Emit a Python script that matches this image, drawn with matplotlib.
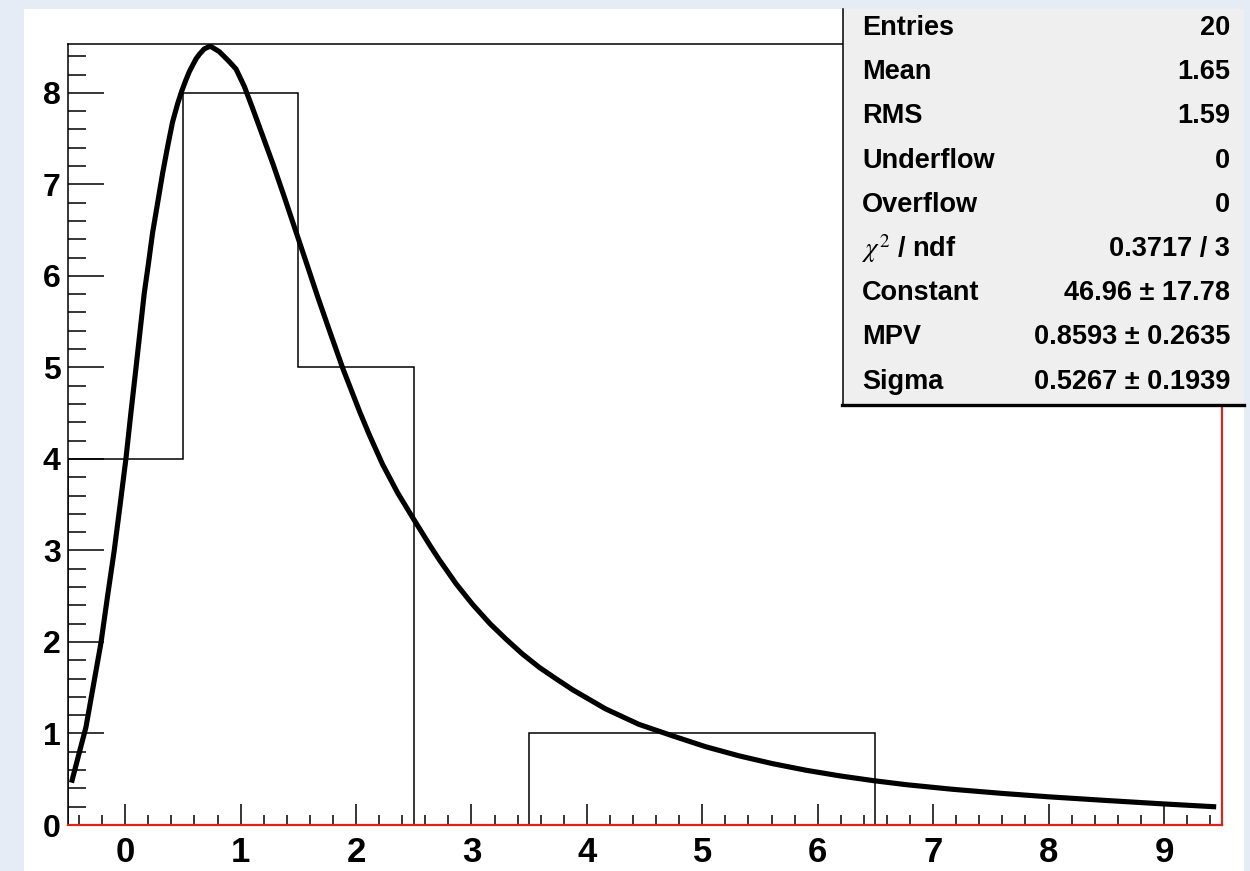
import matplotlib
matplotlib.use("Agg")
import matplotlib.pyplot as plt
from matplotlib.patches import Rectangle
from matplotlib.lines import Line2D
import numpy as np

plt.rcParams['font.family'] = ['Liberation Sans', 'DejaVu Sans']
plt.rcParams['mathtext.fontset'] = 'stix'

# histogram (bin width 1, centred on the integers)
bin_edges = np.arange(-0.5, 10.0, 1.0)
counts = [4, 8, 5, 0, 1, 1, 1, 0, 0, 0]

# landau fit curve
fit_x = [-0.46, -0.34, -0.21, -0.153, -0.095, -0.046, 0.006, 0.049, 0.093, 0.136,
         0.165, 0.202, 0.237, 0.28, 0.324, 0.367, 0.41, 0.454, 0.49, 0.526,
         0.555, 0.613, 0.642, 0.685, 0.737, 0.815, 0.902, 0.96, 1.032, 1.104,
         1.191, 1.278, 1.379, 1.48, 1.581, 1.668, 1.77, 1.885, 2.03, 2.116,
         2.23, 2.36, 2.49, 2.64, 2.72, 2.87, 3.01, 3.16, 3.30, 3.44,
         3.59, 3.73, 3.88, 4.16, 4.45, 4.74, 5.03, 5.32, 5.61, 5.90,
         6.19, 6.48, 6.77, 7.17, 7.6, 8.0, 8.5, 9.0, 9.43]
fit_y = [0.49, 1.07, 1.99, 2.50, 3.0, 3.48, 4.0, 4.50, 4.99, 5.48,
         5.81, 6.14, 6.47, 6.79, 7.12, 7.41, 7.68, 7.88, 8.02, 8.14,
         8.23, 8.37, 8.42, 8.48, 8.51, 8.45, 8.34, 8.26, 8.07, 7.83,
         7.53, 7.23, 6.86, 6.48, 6.10, 5.77, 5.40, 4.99, 4.52, 4.26,
         3.94, 3.63, 3.36, 3.055, 2.90, 2.63, 2.41, 2.20, 2.03, 1.87,
         1.72, 1.60, 1.475, 1.27, 1.10, 0.975, 0.855, 0.755, 0.67, 0.598,
         0.537, 0.485, 0.44, 0.39, 0.345, 0.308, 0.268, 0.23, 0.20]

# stats box
stat_names = ['Entries', 'Mean', 'RMS', 'Underflow', 'Overflow',
              r'$\chi^{2}$ / ndf', 'Constant', 'MPV', 'Sigma']
stat_values = ['20', '1.65', '1.59', '0', '0', '0.3717 / 3',
               '46.96 ± 17.78', '0.8593 ± 0.2635', '0.5267 ± 0.1939']

W, H = 1250, 871
fig = plt.figure(figsize=(W / 100, H / 100), dpi=100)
fig.patch.set_facecolor('#e6ecf5')

def fx(px):
    return px / W

def fy(py):
    return 1 - py / H

# white canvas
fig.add_artist(Rectangle((fx(24), 0), fx(1244) - fx(24), fy(9), transform=fig.transFigure,
                         facecolor='white', edgecolor='none', zorder=0))

ax = fig.add_axes([fx(67.5), fy(825), fx(1221.7) - fx(67.5), fy(44.3) - fy(825)])
ax.set_facecolor('white')
ax.set_xlim(-0.5, 9.5)
ax.set_ylim(0, 8.53)

ax.stairs(counts, bin_edges, color='black', linewidth=1.1, zorder=2)
ax.plot(fit_x, fit_y, color='black', linewidth=3.7, zorder=3, solid_joinstyle='round')

ax.set_xticks(range(0, 10))
ax.set_xticks(np.arange(-0.4, 9.5, 0.2), minor=True)
ax.set_yticks(range(0, 9))
ax.set_yticks(np.arange(0, 8.53, 0.2), minor=True)
ax.tick_params(axis='x', which='major', direction='in', length=15, width=1.1, pad=8, labelsize=25)
ax.tick_params(axis='x', which='minor', direction='in', length=7.2, width=1.1)
ax.tick_params(axis='y', which='major', direction='in', length=26, width=1.1, pad=5, labelsize=23)
ax.tick_params(axis='y', which='minor', direction='in', length=13, width=1.1)
for lab in ax.get_xticklabels() + ax.get_yticklabels():
    lab.set_fontweight('bold')

for s in ['top', 'left']:
    ax.spines[s].set_color('black')
    ax.spines[s].set_linewidth(1.1)
for s in ['bottom', 'right']:
    ax.spines[s].set_color('#d8261c')
    ax.spines[s].set_linewidth(1.6)

# stats pave (clipped by the canvas edge on top and right)
bx0, bx1, by0, by1 = 843, 1244, 9, 404
fig.add_artist(Rectangle((fx(bx0), fy(by1)), fx(bx1) - fx(bx0), fy(by0) - fy(by1),
                         transform=fig.transFigure, facecolor='#efefef',
                         edgecolor='none', zorder=10))
fig.add_artist(Line2D([fx(bx0), fx(bx0)], [fy(by0), fy(by1)], transform=fig.transFigure,
                      color='black', linewidth=1.1, zorder=11))
fig.add_artist(Line2D([fx(bx0 - 1), fx(bx1)], [fy(by1 + 1), fy(by1 + 1)], transform=fig.transFigure,
                      color='black', linewidth=2.4, zorder=11))

for i, (name, val) in enumerate(zip(stat_names, stat_values)):
    yy = fy(28 + 44.2 * i)
    fig.text(fx(862), yy, name, fontsize=19.5, fontweight='bold', ha='left', va='center', zorder=12)
    fig.text(fx(1230), yy, val, fontsize=19.5, fontweight='bold', ha='right', va='center', zorder=12)

fig.savefig('out.png', dpi=100, facecolor=fig.get_facecolor())
